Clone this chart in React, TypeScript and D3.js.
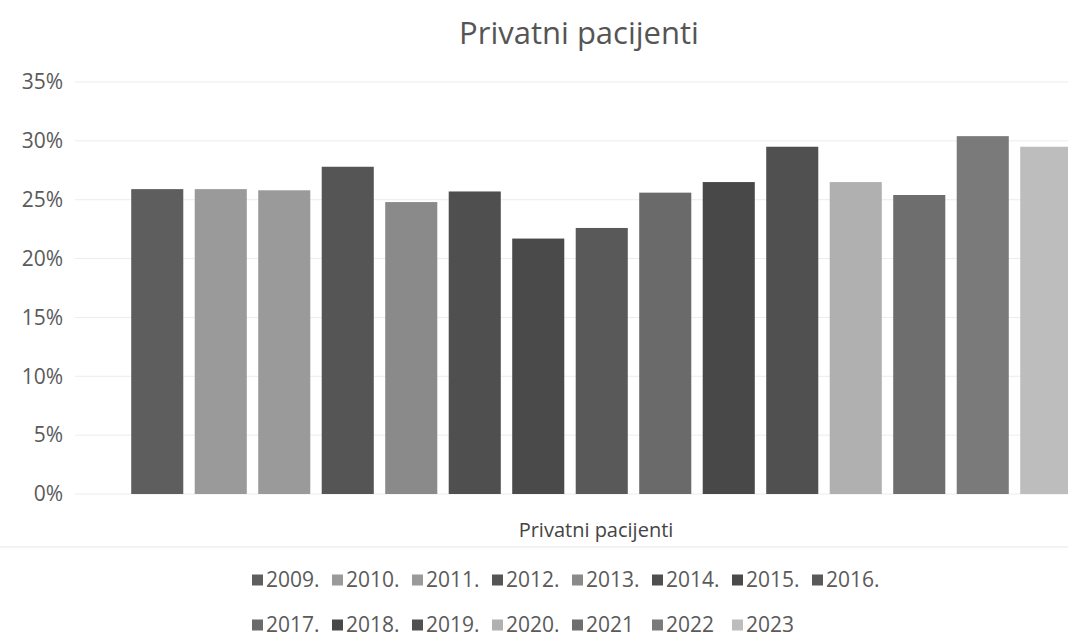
import React, { useEffect, useRef } from 'react';
import * as d3 from 'd3';

const years = ['2009.', '2010.', '2011.', '2012.', '2013.', '2014.', '2015.', '2016.',
  '2017.', '2018.', '2019.', '2020.', '2021', '2022', '2023'];
const values = [25.9, 25.9, 25.8, 27.8, 24.8, 25.7, 21.7, 22.6, 25.6, 26.5, 29.5, 26.5, 25.4, 30.4, 29.5];
const colors = ['#5e5e5e', '#9a9a9a', '#9a9a9a', '#555555', '#8a8a8a', '#4f4f4f', '#4a4a4a', '#595959',
  '#6a6a6a', '#484848', '#505050', '#b0b0b0', '#6e6e6e', '#7a7a7a', '#bdbdbd'];
const yTicks = [0, 5, 10, 15, 20, 25, 30, 35];
const title = 'Privatni pacijenti';
const category = 'Privatni pacijenti';

export default function App() {
  const svgRef = useRef<SVGSVGElement>(null);

  useEffect(() => {
    const svg = d3.select(svgRef.current); svg.selectAll('*').remove();
    const W = 1068, H = 637;
    const font = '"Open Sans", "Noto Sans", sans-serif';
    const x = d3.scaleBand<string>().domain(years).range([125.5, 1078]).paddingInner(0.18).paddingOuter(0.09);
    const y = d3.scaleLinear().domain([0, 35]).range([494, 82]);

    svg.append('rect').attr('width', W).attr('height', H).attr('fill', '#fff');

    svg.append('text').attr('x', 579).attr('y', 44).attr('text-anchor', 'middle')
      .attr('font-family', font).attr('font-size', 31).attr('fill', '#555').text(title);

    // gridlines + y labels
    svg.selectAll('line.grid').data(yTicks).enter().append('line').attr('class', 'grid')
      .attr('x1', 75).attr('x2', W).attr('y1', d => y(d)).attr('y2', d => y(d))
      .attr('stroke', '#ececec').attr('stroke-width', 1);
    svg.selectAll('text.ytick').data(yTicks).enter().append('text').attr('class', 'ytick')
      .attr('x', 63).attr('y', d => y(d)).attr('dy', '0.35em').attr('text-anchor', 'end')
      .attr('font-family', font).attr('font-size', 21).attr('fill', '#5a5a5a').text(d => d + '%');

    svg.selectAll('rect.bar').data(values).enter().append('rect').attr('class', 'bar')
      .attr('x', (_, i) => x(years[i])!).attr('y', d => y(d)).attr('width', x.bandwidth())
      .attr('height', d => y(0) - y(d)).attr('fill', (_, i) => colors[i]);

    svg.append('text').attr('x', 596).attr('y', 537).attr('text-anchor', 'middle')
      .attr('font-family', font).attr('font-size', 20).attr('fill', '#444').text(category);
    svg.append('line').attr('x1', 0).attr('x2', W).attr('y1', 547).attr('y2', 547)
      .attr('stroke', '#e6e6e6');

    // legend
    const lg = svg.append('g');
    years.forEach((yr, i) => {
      const row = Math.floor(i / 8), col = i % 8;
      const gx = 252 + col * 80, gy = 580 + row * 45;
      lg.append('rect').attr('x', gx).attr('y', gy - 5.5).attr('width', 11).attr('height', 11).attr('fill', colors[i]);
      lg.append('text').attr('x', gx + 14).attr('y', gy).attr('dy', '0.35em')
        .attr('font-family', font).attr('font-size', 21).attr('fill', '#5a5a5a').text(yr);
    });
  }, []);

  return (
    <svg ref={svgRef} width={1068} height={637} viewBox="0 0 1068 637"
      style={{ position: 'absolute', left: 0, top: 0 }} />
  );
}
